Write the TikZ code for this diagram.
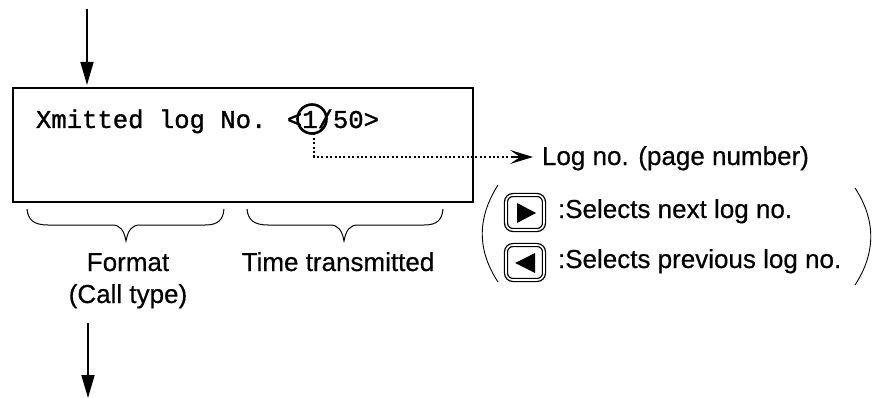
\documentclass[tikz,border=0pt]{standalone}
\usepackage{fontspec}
\newfontfamily\lblfont{Liberation Sans}[FakeBold=0.5]
\newfontfamily\lcdfont{Liberation Mono}[FakeBold=1.2]
\usetikzlibrary{arrows.meta}
\tikzset{
 every node/.style={inner sep=0pt,outer sep=0pt},
 lbl/.style={font=\lblfont\fontsize{26}{28}\selectfont,anchor=base west},
 clbl/.style={font=\lblfont\fontsize{26}{28}\selectfont,anchor=base},
 flow/.style={line width=1.6pt,-{Triangle[length=23pt,width=13pt]}},
 brace/.style={line width=1pt},
 btn/.style={draw,line width=1.3pt,rounded corners=7pt,minimum width=38pt,minimum height=35pt,
   double,double distance=1.6pt},
 paren/.style={line width=.9pt},
 tri/.style={fill=black},
 dots/.style={line width=1.8pt,dash pattern=on 2pt off 2.4pt},
}
\begin{document}
\begin{tikzpicture}[x=1pt,y=-1pt]
\useasboundingbox (0,0) rectangle (877,398);
\coordinate (t1) at (87,9);
\coordinate (t2) at (87,85);
\draw[flow] (t1) -- (t2);
\coordinate (b1) at (88,323);
\coordinate (b2) at (88,398);
\draw[flow] (b1) -- (b2);
\node[draw,line width=1.9pt,minimum width=460pt,minimum height=114pt,anchor=north west] (lcd) at (13,88) {};
\node[font=\lcdfont\fontsize{25.6}{28}\selectfont,anchor=base west] (msg) at (36,128) {Xmitted log No. <1/50>};
\node[draw,circle,line width=2.6pt,minimum size=29pt] (ring) at (312,119) {};
\coordinate (corner) at (314,157);
\coordinate (tip) at (533,157);
\node[lbl] (log) at (542,165) {Log no. (page number)};
\draw[dots] (ring.south -| corner) -- (corner) -- (516,157);
\draw[line width=1.6pt,-{Stealth[length=23pt,width=14pt,inset=10pt]}] (512,157) -- (tip);
% braces
\draw[brace] (27,209) .. controls (28,220) and (34,225) .. (48,225) -- (112,225) .. controls (120,225) and (124,230) .. (126,241)
  .. controls (128,230) and (132,225) .. (140,225) -- (205,225) .. controls (218,225) and (223,220) .. (224,209);
\draw[brace] (247,209) .. controls (248,220) and (254,225) .. (268,225) -- (330,225) .. controls (338,225) and (342,230) .. (344,241)
  .. controls (346,230) and (350,225) .. (358,225) -- (424,225) .. controls (437,225) and (442,220) .. (443,209);
\node[clbl] (fmt) at (128,271) {Format};
\node[clbl] (call) at (128,303) {(Call type)};
\node[clbl] (time) at (338,271) {Time transmitted};
% buttons
\node[btn] (next) at (525,212.5) {};
\fill[tri] (517,203) -- (536,213) -- (517,223) -- cycle;
\node[btn] (prev) at (525,262.5) {};
\fill[tri] (535,253) -- (515,263) -- (535,273) -- cycle;
\node[lbl] (nx) at (558,218) {:Selects next log no.};
\node[lbl] (pv) at (558,268) {:Selects previous log no.};
\draw[paren] (498,185) .. controls (477,218) and (477,250) .. (498,282);
\draw[paren] (855,188) .. controls (876,220) and (876,253) .. (855,285);
\end{tikzpicture}
\end{document}
